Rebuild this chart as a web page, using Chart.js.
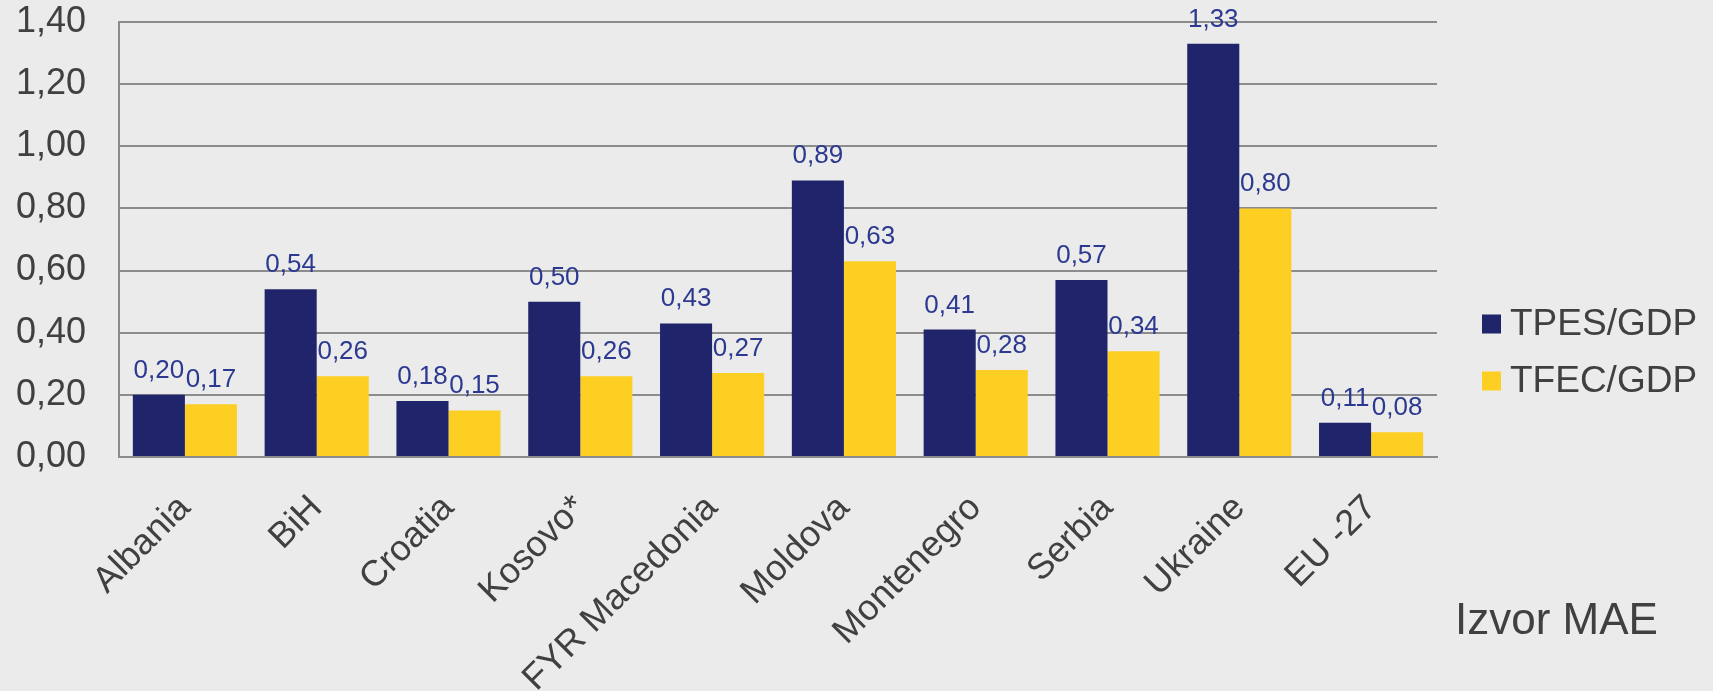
<!DOCTYPE html>
<html>
<head>
<meta charset="utf-8">
<script src="https://cdn.jsdelivr.net/npm/chart.js@4"></script>
<style>
  html, body { margin: 0; padding: 0; background: #ebebeb; }
  #wrap { width: 1713px; height: 691px; }
</style>
</head>
<body>
<div id="wrap"><canvas id="energyChart"></canvas></div>
<script>
const countries = ['Albania', 'BiH', 'Croatia', 'Kosovo*', 'FYR Macedonia', 'Moldova', 'Montenegro', 'Serbia', 'Ukraine', 'EU -27'];
const tpesGdp = [0.20, 0.54, 0.18, 0.50, 0.43, 0.89, 0.41, 0.57, 1.33, 0.11];
const tfecGdp = [0.17, 0.26, 0.15, 0.26, 0.27, 0.63, 0.28, 0.34, 0.80, 0.08];
const seriesNames = ['TPES/GDP', 'TFEC/GDP'];
const sourceNote = 'Izvor MAE';

(function () {
    const font = 'Liberation Sans, Arial, sans-serif';
    const textColor = '#404040';
    const gridColor = '#8c8c8c';
    const fmt = v => v.toFixed(2).replace('.', ',');

    // value labels above every bar
    const valueLabels = {
        id: 'valueLabels',
        afterDatasetsDraw(chart) {
            const ctx = chart.ctx;
            ctx.save();
            ctx.font = '26px ' + font;
            ctx.fillStyle = '#2b3990';
            ctx.textAlign = 'center';
            ctx.textBaseline = 'alphabetic';
            chart.data.datasets.forEach((ds, i) => {
                chart.getDatasetMeta(i).data.forEach((bar, j) => {
                    ctx.fillText(fmt(ds.data[j]), bar.x, bar.y - 17);
                });
            });
            ctx.restore();
        }
    };

    // legend on the right and the source note
    const sideLegend = {
        id: 'sideLegend',
        afterDraw(chart) {
            const ctx = chart.ctx;
            const x = chart.chartArea.right + 45;
            ctx.save();
            ctx.font = '37px ' + font;
            ctx.textBaseline = 'middle';
            ctx.textAlign = 'left';
            chart.data.datasets.forEach((ds, i) => {
                const y = 324 + i * 57;
                ctx.fillStyle = ds.backgroundColor;
                ctx.fillRect(x, y - 9.5, 19, 19);
                ctx.fillStyle = textColor;
                ctx.fillText(ds.label, x + 28, y + 1);
            });
            ctx.font = '44px ' + font;
            ctx.textBaseline = 'alphabetic';
            ctx.fillText(sourceNote, chart.chartArea.right + 18, 634);
            ctx.restore();
        }
    };

    new Chart(document.getElementById('energyChart'), {
        type: 'bar',
        data: {
            labels: countries,
            datasets: [
                { label: seriesNames[0], data: tpesGdp, backgroundColor: '#1f246b' },
                { label: seriesNames[1], data: tfecGdp, backgroundColor: '#fdcf23' }
            ]
        },
        options: {
            responsive: true,
            maintainAspectRatio: false,
            animation: false,
            layout: { padding: { top: 22, right: 276, left: 0, bottom: 0 } },
            datasets: { bar: { categoryPercentage: 0.79, barPercentage: 1.0 } },
            plugins: { legend: { display: false }, tooltip: { enabled: false } },
            scales: {
                x: {
                    grid: { display: false, drawTicks: false },
                    border: { display: true, color: gridColor, width: 2 },
                    ticks: {
                        color: textColor, font: { family: font, size: 36 },
                        minRotation: 45, maxRotation: 45, padding: 30, autoSkip: false
                    },
                    afterFit(axis) { axis.height = 234; }
                },
                y: {
                    min: 0, max: 1.4,
                    grid: { color: gridColor, lineWidth: 2, drawTicks: false },
                    border: { display: true, color: gridColor, width: 2 },
                    ticks: {
                        stepSize: 0.2, color: textColor, padding: 33,
                        font: { family: font, size: 36 },
                        callback: v => fmt(v)
                    },
                    afterFit(axis) {
                        axis.width = 119;
                        axis.paddingTop = 0;
                        axis.paddingBottom = 0;
                    }
                }
            }
        },
        plugins: [valueLabels, sideLegend]
    });
})();
</script>
</body>
</html>
